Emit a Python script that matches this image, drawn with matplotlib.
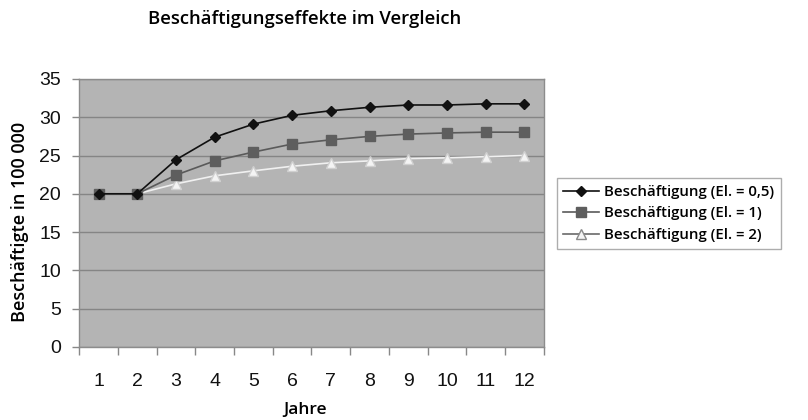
import matplotlib
matplotlib.use("Agg")
import matplotlib.pyplot as plt
from matplotlib.lines import Line2D
from matplotlib.ticker import FixedLocator, NullFormatter

years = [1, 2, 3, 4, 5, 6, 7, 8, 9, 10, 11, 12]
el_05 = [20, 20, 24.45, 27.4, 29.1, 30.25, 30.85, 31.3, 31.6, 31.6, 31.75, 31.75]
el_1 = [20, 20, 22.45, 24.3, 25.45, 26.5, 27.05, 27.5, 27.8, 27.95, 28.05, 28.05]
el_2 = [20, 20, 21.3, 22.35, 23.0, 23.6, 24.05, 24.3, 24.6, 24.7, 24.85, 25.0]
labels = ["Beschäftigung (El. = 0,5)", "Beschäftigung (El. = 1)", "Beschäftigung (El. = 2)"]

title_font = "Open Sans"
tick_font = "Liberation Sans"

fig = plt.figure(figsize=(8.08, 4.2), dpi=100)
ax = fig.add_axes([0.098, 0.174, 0.575, 0.638])
ax.set_facecolor("#b4b4b4")

ax.plot(years, el_05, color="#111111", lw=1.2, marker="D", ms=5.5,
        mfc="#111111", mec="#111111", zorder=5)
ax.plot(years, el_1, color="#5a5a5a", lw=1.2, marker="s", ms=6.5,
        mfc="#5e5e5e", mec="#5e5e5e", zorder=4)
ax.plot(years, el_2, color="#f0f0f0", lw=1.2, marker="^", ms=7,
        mfc="#f4f4f4", mec="#d0d0d0", zorder=3)

ax.set_xlim(0.5, 12.5)
ax.set_ylim(0, 35)
ax.set_yticks([0, 5, 10, 15, 20, 25, 30, 35])
ax.yaxis.grid(True, color="#858585", lw=1.0)
ax.set_axisbelow(True)
ax.set_xticks(years)
ax.xaxis.set_minor_locator(FixedLocator([x + 0.5 for x in range(0, 13)]))
ax.xaxis.set_minor_formatter(NullFormatter())
ax.tick_params(axis="x", which="major", length=0, pad=19)
ax.tick_params(axis="x", which="minor", length=6, color="#888888", width=1)
ax.tick_params(axis="y", length=5, color="#888888", width=1, pad=8)
for lab in ax.get_xticklabels() + ax.get_yticklabels():
    lab.set_fontfamily(tick_font)
    lab.set_fontsize(14)
    lab.set_color("#111111")
for s in ax.spines.values():
    s.set_color("#8c8c8c")
    s.set_linewidth(1.0)

fig.text(0.378, 0.023, "Jahre", fontfamily=title_font, fontsize=12.5,
         fontweight="semibold", ha="center", va="center")
fig.text(0.025, 0.471, "Beschäftigte in 100 000", fontfamily=title_font, fontsize=13,
         fontweight="semibold", ha="center", va="center", rotation=90)
fig.text(0.377, 0.955, "Beschäftigungseffekte im Vergleich", fontfamily=title_font,
         fontsize=13.3, fontweight="semibold", ha="center", va="center")

h1 = Line2D([], [], color="#111111", lw=1.2, marker="D", ms=5.5, mfc="#111111", mec="#111111")
h2 = Line2D([], [], color="#5a5a5a", lw=1.2, marker="s", ms=6.5, mfc="#5e5e5e", mec="#5e5e5e")
h3 = Line2D([], [], color="#6a6a6a", lw=1.2, marker="^", ms=7, mfc="#f4f4f4", mec="#8a8a8a")
leg = fig.legend([h1, h2, h3], labels, loc="center left",
                 bbox_to_anchor=(0.689, 0.492), frameon=True, fancybox=False,
                 prop={"family": title_font, "size": 10.8, "weight": "semibold"},
                 handlelength=2.4, borderpad=0.45, labelspacing=0.5, handletextpad=0.3,
                 borderaxespad=0)
leg.get_frame().set_edgecolor("#999999")
leg.get_frame().set_linewidth(1.0)

fig.savefig("out.png", dpi=100)
